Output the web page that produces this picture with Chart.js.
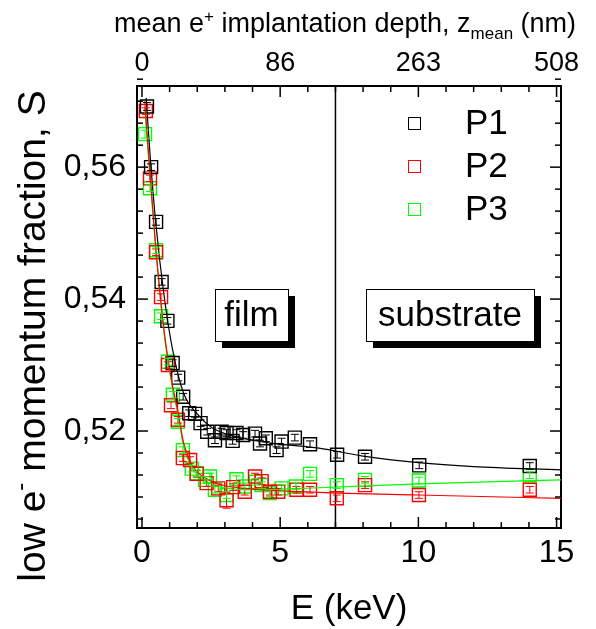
<!DOCTYPE html>
<html>
<head>
<meta charset="utf-8">
<script src="https://cdn.jsdelivr.net/npm/chart.js@4.4.1/dist/chart.umd.min.js"></script>
<style>
  html, body { margin: 0; padding: 0; background: #fff; }
</style>
</head>
<body>
<canvas id="chart" width="596" height="629"></canvas>
<script>
// measured points, S vs positron energy E (keV)
const p1E = [0.18, 0.33, 0.51, 0.71, 0.92, 1.11, 1.31, 1.49, 1.71, 1.92, 2.12, 2.36, 2.64, 2.88, 3.06, 3.28, 3.42, 3.66, 4.09, 4.27, 4.48, 4.87, 5.05, 5.53, 6.08, 7.06, 8.07, 10.03, 14.03];
const p1S = [0.5692, 0.5600, 0.5517, 0.5426, 0.5367, 0.5303, 0.5281, 0.5252, 0.5227, 0.5226, 0.5212, 0.5199, 0.5186, 0.5199, 0.5197, 0.5185, 0.5197, 0.5194, 0.5196, 0.5181, 0.5189, 0.5171, 0.5184, 0.5190, 0.5180, 0.5164, 0.5161, 0.5148, 0.5147];
const p1Err = [0.0006, 0.0005, 0.0005, 0.0005, 0.0005, 0.0005, 0.0005, 0.0005, 0.0005, 0.0005, 0.0005, 0.0005, 0.0005, 0.0005, 0.0005, 0.0005, 0.0005, 0.0005, 0.0005, 0.0005, 0.0005, 0.0005, 0.0005, 0.0005, 0.0005, 0.0005, 0.0005, 0.0005, 0.0005];

const p2E = [0.14, 0.29, 0.51, 0.69, 0.94, 1.05, 1.30, 1.48, 1.74, 1.98, 2.34, 2.76, 3.06, 3.30, 3.72, 4.09, 4.33, 4.63, 4.93, 5.59, 6.08, 7.05, 8.07, 10.02, 14.03];
const p2S = [0.5685, 0.5583, 0.5471, 0.5403, 0.5300, 0.5239, 0.5217, 0.5159, 0.5156, 0.5135, 0.5121, 0.5113, 0.5095, 0.5115, 0.5108, 0.5131, 0.5124, 0.5108, 0.5108, 0.5111, 0.5111, 0.5098, 0.5118, 0.5103, 0.5111];
const p2Err = [0.0005, 0.0005, 0.0005, 0.0005, 0.0005, 0.0005, 0.0005, 0.0005, 0.0005, 0.0005, 0.0005, 0.0005, 0.0012, 0.0005, 0.0005, 0.0005, 0.0005, 0.0005, 0.0005, 0.0005, 0.0005, 0.0005, 0.0005, 0.0005, 0.0005];

const p3E = [0.11, 0.29, 0.51, 0.69, 0.94, 1.12, 1.30, 1.48, 1.80, 1.98, 2.28, 2.46, 2.64, 3.06, 3.42, 3.72, 4.12, 4.33, 4.63, 5.05, 5.57, 6.08, 7.05, 8.07, 10.02, 14.03];
const p3S = [0.5650, 0.5568, 0.5474, 0.5374, 0.5305, 0.5255, 0.5214, 0.5171, 0.5143, 0.5136, 0.5126, 0.5131, 0.5111, 0.5103, 0.5127, 0.5116, 0.5123, 0.5118, 0.5106, 0.5113, 0.5116, 0.5135, 0.5118, 0.5126, 0.5125, 0.5133];
const p3Err = [0.0006, 0.0005, 0.0005, 0.0005, 0.0005, 0.0005, 0.0005, 0.0005, 0.0005, 0.0005, 0.0005, 0.0005, 0.0005, 0.0005, 0.0005, 0.0005, 0.0005, 0.0005, 0.0005, 0.0005, 0.0005, 0.0005, 0.0005, 0.0005, 0.0005, 0.0005];

// fitted curves
const fit1E = [0.15, 0.3, 0.5, 0.8, 1.1, 1.5, 2.0, 2.5, 3.0, 4.0, 5.0, 6.4, 8.0, 10.0, 12.0, 15.16];
const fit1S = [0.5705, 0.5615, 0.5515, 0.5405, 0.5325, 0.5258, 0.5226, 0.5206, 0.5196, 0.5186, 0.5180, 0.5174, 0.5162, 0.5152, 0.5146, 0.5141];
const fit2E = [0.1, 0.3, 0.5, 0.8, 1.1, 1.3, 1.5, 1.75, 2.0, 2.5, 3.0, 4.0, 6.4, 10.0, 15.16];
const fit2S = [0.5700, 0.5585, 0.5478, 0.5352, 0.5270, 0.5230, 0.5183, 0.5153, 0.5138, 0.5124, 0.5117, 0.5112, 0.5107, 0.5103, 0.5098];
const fit3E = [0.1, 0.3, 0.5, 0.8, 1.1, 1.3, 1.5, 1.75, 2.0, 2.5, 3.0, 4.0, 6.4, 10.0, 15.16];
const fit3S = [0.5690, 0.5580, 0.5475, 0.5348, 0.5266, 0.5226, 0.5178, 0.5149, 0.5134, 0.5120, 0.5114, 0.5111, 0.5114, 0.5120, 0.5126];

// axes
const xTicks = [0, 1, 2, 3, 4, 5, 6, 7, 8, 9, 10, 11, 12, 13, 14, 15];
const xMajor = [0, 5, 10, 15];
const topLabels = ["0", "86", "263", "508"];
const yMajor = [0.52, 0.54, 0.56];
const seriesNames = ["P1", "P2", "P3"];
const colors = ["#000000", "#ff0000", "#00ff00"];
const interfaceE = 7;

const FONT = "'Liberation Sans', Arial, sans-serif";

function pts(xs, ys) {
  return xs.map((x, i) => ({ x: x, y: ys[i] }));
}

function pointSet(label, xs, ys, err, color) {
  return {
    label: label,
    data: pts(xs, ys),
    err: err,
    showLine: false,
    pointStyle: "rect",
    pointRadius: 9.2,
    borderWidth: 1.4,
    borderColor: color,
    backgroundColor: "rgba(0,0,0,0)",
    order: 2,
  };
}

function fitSet(xs, ys, color) {
  return {
    data: pts(xs, ys),
    showLine: true,
    pointRadius: 0,
    borderWidth: 1.2,
    borderColor: color,
    cubicInterpolationMode: "monotone",
    fill: false,
    order: 1,
  };
}

// boxes in data coordinates
const boxes = [
  { text: "film", e0: 2.64, e1: 5.28, s0: 0.54152, s1: 0.53364 },
  { text: "substrate", e0: 8.10, e1: 14.18, s0: 0.54152, s1: 0.53364 },
];

const decor = {
  id: "decor",
  beforeDatasetsDraw(chart) {
    const { ctx, chartArea: a } = chart;
    const x = chart.scales.x, y = chart.scales.y;
    ctx.save();
    const xi = x.getPixelForValue(interfaceE);
    ctx.strokeStyle = "#000";
    ctx.lineWidth = 1.5;
    ctx.beginPath();
    ctx.moveTo(xi, a.top);
    ctx.lineTo(xi, a.bottom);
    ctx.stroke();

    boxes.forEach(b => {
      const l = Math.round(x.getPixelForValue(b.e0));
      const r = Math.round(x.getPixelForValue(b.e1));
      const t = Math.round(y.getPixelForValue(b.s0));
      const bt = Math.round(y.getPixelForValue(b.s1));
      ctx.fillStyle = "#000";
      ctx.fillRect(l + 7, t + 7, r - l, bt - t);
      ctx.fillStyle = "#fff";
      ctx.fillRect(l, t, r - l, bt - t);
      ctx.lineWidth = 1;
      ctx.strokeStyle = "#000";
      ctx.strokeRect(l + 0.5, t + 0.5, r - l, bt - t);
      ctx.fillStyle = "#000";
      ctx.font = "35px " + FONT;
      ctx.textAlign = "center";
      ctx.textBaseline = "middle";
      ctx.fillText(b.text, (l + r) / 2, (t + bt) / 2 + 1);
    });
    ctx.restore();
  },
  afterDatasetsDraw(chart) {
    const { ctx } = chart;
    const x = chart.scales.x, y = chart.scales.y;
    ctx.save();
    chart.data.datasets.forEach(ds => {
      if (!ds.err) return;
      ctx.strokeStyle = ds.borderColor;
      ctx.lineWidth = 1;
      ds.data.forEach((p, i) => {
        const px = x.getPixelForValue(p.x);
        const hi = y.getPixelForValue(p.y + ds.err[i]);
        const lo = y.getPixelForValue(p.y - ds.err[i]);
        ctx.beginPath();
        ctx.moveTo(px, hi); ctx.lineTo(px, lo);
        ctx.moveTo(px - 4, hi); ctx.lineTo(px + 4, hi);
        ctx.moveTo(px - 4, lo); ctx.lineTo(px + 4, lo);
        ctx.stroke();
      });
    });
    ctx.restore();
  },
  afterDraw(chart) {
    const { ctx, chartArea: a } = chart;
    ctx.save();
    ctx.strokeStyle = "#000";
    ctx.lineWidth = 1.5;

    // inward ticks on all four sides
    const sides = [
      ["x", a.bottom, -1], ["x2", a.top, 1], ["y", a.left, 1], ["y2", a.right, -1],
    ];
    sides.forEach(([id, edge, dir]) => {
      const s = chart.scales[id];
      s.ticks.forEach(t => {
        const p = s.getPixelForValue(t.value);
        const major = s.isHorizontal()
          ? xMajor.includes(t.value)
          : yMajor.some(m => Math.abs(m - t.value) < 1e-6);
        const len = major ? 11 : 6;
        ctx.beginPath();
        if (s.isHorizontal()) {
          ctx.moveTo(p, edge); ctx.lineTo(p, edge + dir * len);
        } else {
          ctx.moveTo(edge, p); ctx.lineTo(edge + dir * len, p);
        }
        ctx.stroke();
      });
    });

    // legend
    ctx.lineWidth = 1;
    seriesNames.forEach((n, i) => {
      const cy = a.top + 37 + i * 43;
      const cx = a.right - 147;
      ctx.strokeStyle = colors[i];
      ctx.strokeRect(Math.round(cx - 6) + 0.5, Math.round(cy - 6) + 0.5, 12, 12);
      ctx.fillStyle = "#000";
      ctx.font = "35px " + FONT;
      ctx.textAlign = "left";
      ctx.textBaseline = "middle";
      ctx.fillText(n, a.right - 96, cy + 1);
    });

    // top title with superscript and subscript
    const big = "27px " + FONT, small = "17px " + FONT;
    const parts = [
      ["mean e", big, 0], ["+", small, -10], [" implantation depth, z", big, 0],
      ["mean", small, 7], [" (nm)", big, 0],
    ];
    let w = 0;
    parts.forEach(p => { ctx.font = p[1]; w += ctx.measureText(p[0]).width; });
    let tx = 345 - w / 2;
    ctx.fillStyle = "#000";
    ctx.textAlign = "left";
    ctx.textBaseline = "alphabetic";
    parts.forEach(p => {
      ctx.font = p[1];
      ctx.fillText(p[0], tx, 32 + p[2]);
      tx += ctx.measureText(p[0]).width;
    });

    // left title, rotated
    const lbig = "39px " + FONT, lsmall = "24px " + FONT;
    const lparts = [["low e", lbig, 0], ["-", lsmall, -17], [" momentum fraction, S", lbig, 0]];
    ctx.translate(45, 336);
    ctx.rotate(-Math.PI / 2);
    w = 0;
    lparts.forEach(p => { ctx.font = p[1]; w += ctx.measureText(p[0]).width; });
    tx = -w / 2;
    lparts.forEach(p => {
      ctx.font = p[1];
      ctx.fillText(p[0], tx, p[2]);
      tx += ctx.measureText(p[0]).width;
    });
    ctx.restore();
  },
};

function xTickList(scale) {
  scale.ticks = xTicks.map(v => ({ value: v }));
}
function yTickList(scale) {
  const step = 0.02 / 6;
  const list = [];
  for (let k = -4; k <= 16; k++) list.push({ value: 0.52 + k * step });
  scale.ticks = list;
}

const border = { display: true, color: "#000", width: 2 };
const noGrid = { display: false, drawTicks: false };

const chart = new Chart(document.getElementById("chart"), {
  type: "scatter",
  data: {
    datasets: [
      pointSet("P1", p1E, p1S, p1Err, colors[0]),
      pointSet("P2", p2E, p2S, p2Err, colors[1]),
      pointSet("P3", p3E, p3S, p3Err, colors[2]),
      fitSet(fit1E, fit1S, colors[0]),
      fitSet(fit2E, fit2S, colors[1]),
      fitSet(fit3E, fit3S, colors[2]),
    ],
  },
  options: {
    responsive: false,
    animation: false,
    layout: { padding: 0 },
    plugins: { legend: { display: false }, tooltip: { enabled: false } },
    scales: {
      x: {
        type: "linear", position: "bottom", min: -0.18, max: 15.16,
        afterBuildTicks: xTickList,
        afterFit: s => { s.height = 101; },
        grid: noGrid, border: border,
        ticks: {
          autoSkip: false, maxRotation: 0, padding: 6, color: "#000",
          font: { family: FONT, size: 32 },
          callback: v => (xMajor.includes(v) ? String(v) : ""),
        },
        title: {
          display: true, text: "E (keV)", color: "#000", padding: 0,
          font: { family: FONT, size: 35, lineHeight: 1.15 },
        },
      },
      x2: {
        type: "linear", position: "top", min: -0.18, max: 15.16,
        afterBuildTicks: xTickList,
        afterFit: s => { s.height = 86; },
        grid: noGrid, border: border,
        ticks: {
          autoSkip: false, maxRotation: 0, padding: 6, color: "#000",
          font: { family: FONT, size: 27 },
          callback: v => { const i = xMajor.indexOf(v); return i >= 0 ? topLabels[i] : ""; },
        },
      },
      y: {
        type: "linear", position: "left", min: 0.5053, max: 0.5723,
        afterBuildTicks: yTickList,
        afterFit: s => { s.width = 137; },
        grid: noGrid, border: border,
        ticks: {
          autoSkip: false, padding: 11, color: "#000",
          font: { family: FONT, size: 32 },
          callback: v => {
            const m = yMajor.find(q => Math.abs(q - v) < 1e-6);
            return m !== undefined ? m.toFixed(2).replace(".", ",") : "";
          },
        },
      },
      y2: {
        type: "linear", position: "right", min: 0.5053, max: 0.5723,
        afterBuildTicks: yTickList,
        afterFit: s => { s.width = 35; },
        grid: noGrid, border: border,
        ticks: { display: false },
      },
    },
  },
  plugins: [decor],
});
</script>
</body>
</html>
